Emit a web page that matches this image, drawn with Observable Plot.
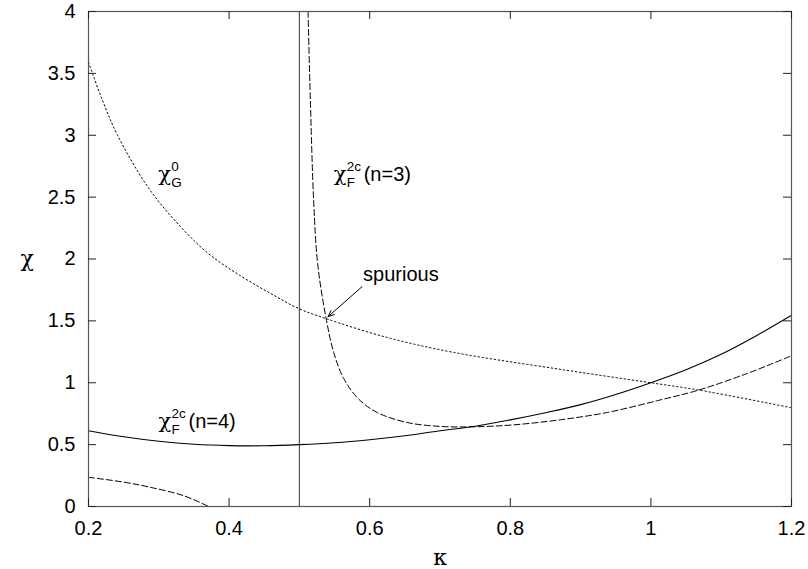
<!DOCTYPE html>
<html><head><meta charset="utf-8">
<script src="https://cdn.jsdelivr.net/npm/d3@7"></script>
<script src="https://cdn.jsdelivr.net/npm/@observablehq/plot@0.6"></script>
<style>body{margin:0;background:#fff}</style>
</head><body><div id="chart"></div>
<script>
// Tick values
const xTicks = [0.2, 0.4, 0.6, 0.8, 1, 1.2];
const yTicks = [0, 0.5, 1, 1.5, 2, 2.5, 3, 3.5, 4];

// chi_G^0 (dotted)
const chiGKappa = [0.20, 0.22, 0.2413, 0.2831, 0.321, 0.3685, 0.416, 0.4633, 0.50, 0.537, 0.6247, 0.7196, 0.8715, 0.995, 1.068, 1.2];
const chiGValue = [3.59, 3.28, 3.00, 2.593, 2.323, 2.053, 1.865, 1.708, 1.597, 1.520, 1.366, 1.245, 1.108, 1.004, 0.941, 0.798];

// chi_F^2c (n=3), right branch (dashed)
const n3Kappa = [0.5123, 0.5156, 0.5203, 0.526, 0.538, 0.5488, 0.563, 0.5843, 0.6105, 0.6532, 0.7006, 0.748, 0.805, 0.8715, 0.938, 1.009, 1.068, 1.137, 1.2];
const n3Value = [4.0, 3.28, 2.47, 1.96, 1.52, 1.245, 1.035, 0.868, 0.760, 0.679, 0.647, 0.644, 0.660, 0.701, 0.760, 0.855, 0.941, 1.075, 1.218];

// chi_F^2c (n=3), lower-left branch (dashed)
const n3LowKappa = [0.2, 0.25, 0.288, 0.335, 0.371];
const n3LowValue = [0.236, 0.197, 0.155, 0.088, 0.0];

// chi_F^2c (n=4) (solid)
const n4Kappa = [0.2, 0.25, 0.3, 0.35, 0.4, 0.45, 0.5, 0.55, 0.6, 0.65, 0.7, 0.75, 0.8, 0.85, 0.9, 0.95, 1.0, 1.05, 1.1, 1.15, 1.2];
const n4Value = [0.612, 0.563, 0.527, 0.503, 0.492, 0.491, 0.500, 0.515, 0.540, 0.572, 0.612, 0.648, 0.700, 0.758, 0.823, 0.905, 1.000, 1.105, 1.230, 1.380, 1.545];

// vertical line at kappa = 0.5
const verticalAt = [0.5];

// annotations
const curveLabels = [
  {k: 0.2992, v: 2.629, base: "χ", sup: "0",  sub: "G", tail: ""},
  {k: 0.5488, v: 2.633, base: "χ", sup: "2c", sub: "F", tail: "(n=3)"},
  {k: 0.2996, v: 0.632, base: "χ", sup: "2c", sub: "F", tail: "(n=4)"}
];
const spuriousText = [{k: 0.5906, v: 1.825, t: "spurious"}];
const spuriousArrow = [{k1: 0.589, v1: 1.776, k2: 0.5408, v2: 1.534}];

const xLabel = ["κ"];
const yLabel = ["χ"];

const zip = (ks, vs) => ks.map((k, i) => ({k, v: vs[i]}));
const chiG = zip(chiGKappa, chiGValue);
const n3 = zip(n3Kappa, n3Value);
const n3Low = zip(n3LowKappa, n3LowValue);
const n4 = zip(n4Kappa, n4Value);

const frameColor = "#555";
const sans = "Liberation Sans, Arial, Helvetica, sans-serif";
const serif = "DejaVu Serif, Liberation Serif, serif";

const chart = Plot.plot({
  width: 808,
  height: 569,
  marginLeft: 88,
  marginRight: 17,
  marginTop: 11,
  marginBottom: 63,
  style: {fontFamily: sans, fontSize: "20px", background: "#fff", color: "#000"},
  x: {domain: [0.2, 1.2]},
  y: {domain: [0, 4]},
  marks: [
    Plot.ruleX(verticalAt, {x: d => d, stroke: frameColor, strokeWidth: 1.2}),
    Plot.line(chiG, {x: "k", y: "v", stroke: "#000", strokeWidth: 1, strokeDasharray: "1.5,2.6", curve: "catmull-rom"}),
    Plot.line(n3, {x: "k", y: "v", stroke: "#000", strokeWidth: 1, strokeDasharray: "6,3", curve: "catmull-rom"}),
    Plot.line(n3Low, {x: "k", y: "v", stroke: "#000", strokeWidth: 1, strokeDasharray: "6,3", curve: "catmull-rom"}),
    Plot.line(n4, {x: "k", y: "v", stroke: "#000", strokeWidth: 1.1, curve: "catmull-rom"}),
    Plot.frame({stroke: frameColor, strokeWidth: 1.2}),
    Plot.tickX(xTicks, {x: d => d, insetTop: 487, stroke: "#222"}),
    Plot.tickX(xTicks, {x: d => d, insetBottom: 487, stroke: "#222"}),
    Plot.tickY(yTicks, {y: d => d, insetRight: 695, stroke: "#222"}),
    Plot.tickY(yTicks, {y: d => d, insetLeft: 695, stroke: "#222"}),
    Plot.axisX(xTicks, {tickSize: 0, tickPadding: 14, tickFormat: d => String(d), fontSize: 20, label: null}),
    Plot.axisY(yTicks, {tickSize: 0, tickPadding: 13, tickFormat: d => String(d), fontSize: 20, label: null}),
    Plot.text(xLabel, {text: d => d, frameAnchor: "bottom", dy: 51, lineAnchor: "middle", fontFamily: serif, fontSize: 22}),
    Plot.text(yLabel, {text: d => d, frameAnchor: "left", dx: -68, lineAnchor: "middle", fontFamily: serif, fontSize: 22}),
    // curve labels
    Plot.text(curveLabels, {x: "k", y: "v", text: "base", textAnchor: "start", lineAnchor: "bottom", fontFamily: serif, fontSize: 21}),
    Plot.text(curveLabels, {x: "k", y: "v", text: "sup", textAnchor: "start", lineAnchor: "bottom", dx: 13, dy: -10, fontSize: 13.5}),
    Plot.text(curveLabels, {x: "k", y: "v", text: "sub", textAnchor: "start", lineAnchor: "bottom", dx: 13, dy: 6, fontSize: 13.5}),
    Plot.text(curveLabels, {x: "k", y: "v", text: "tail", textAnchor: "start", lineAnchor: "bottom", dx: 30, fontSize: 20}),
    Plot.text(spuriousText, {x: "k", y: "v", text: "t", textAnchor: "start", lineAnchor: "bottom", fontSize: 20}),
    Plot.arrow(spuriousArrow, {x1: "k1", y1: "v1", x2: "k2", y2: "v2", stroke: "#000", strokeWidth: 1, headLength: 10, headAngle: 45})
  ]
});
document.getElementById("chart").appendChild(chart);
</script>
</body></html>
